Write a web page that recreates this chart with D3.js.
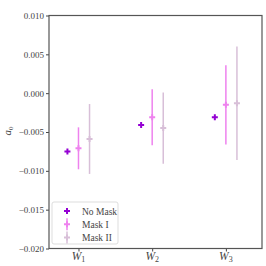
<!DOCTYPE html>
<html>
<head>
<meta charset="utf-8">
<script src="https://d3js.org/d3.v7.min.js"></script>
<style>
  body { margin: 0; background: #fff; }
  text { font-family: "Liberation Serif", "DejaVu Serif", serif; }
</style>
</head>
<body>
<svg width="266" height="266"></svg>
<script>
// categories and series
var cats = ["1", "2", "3"];
var seriesNames = ["No Mask", "Mask I", "Mask II"];
var noMask = [-0.0075, -0.0041, -0.0031];
var maskI = [-0.0071, -0.0031, -0.0015];
var maskIErr = [0.0027, 0.0036, 0.0051];
var maskII = [-0.0059, -0.0045, -0.0013];
var maskIIErr = [0.0045, 0.0046, 0.0073];
var yTicks = [0.010, 0.005, 0.000, -0.005, -0.010, -0.015, -0.020];

var colors = ["darkviolet", "violet", "thistle"];
var offsets = [-0.15, 0, 0.15];

var svg = d3.select("svg");
var mLeft = 49, mRight = 262, mTop = 15.5, mBottom = 248.5;

var x = d3.scaleLinear().domain([-0.4, 2.49]).range([mLeft, mRight]);
var y = d3.scaleLinear().domain([-0.020, 0.010]).range([mBottom, mTop]);

var fmt = function(d) { return d3.format(".3f")(d).replace("-", "\u2212"); };

// y axis
var ya = svg.append("g").attr("transform", "translate(" + mLeft + ",0)")
  .call(d3.axisLeft(y).tickValues(yTicks).tickFormat(fmt).tickSize(3).tickPadding(2));
ya.selectAll("text").attr("font-size", "9px").attr("fill", "#444")
  .style("font-family", "'Liberation Serif', serif");

// x axis
var xa = svg.append("g").attr("transform", "translate(0," + mBottom + ")")
  .call(d3.axisBottom(x).tickValues([0, 1, 2]).tickFormat("").tickSize(3));
xa.selectAll("text").remove();

svg.selectAll(".xl").data(cats).enter().append("text")
  .attr("x", function(d, i) { return x(i); })
  .attr("y", 260)
  .attr("text-anchor", "middle")
  .attr("font-size", "11.5px")
  .attr("fill", "#444")
  .each(function(d) {
    var t = d3.select(this);
    t.append("tspan").attr("font-style", "italic").text("W");
    t.append("tspan").attr("font-size", "8px").attr("dy", 2).text(d);
  });

svg.selectAll(".domain").remove();
svg.selectAll(".tick line").attr("stroke", "#444");

// frame
svg.append("rect").attr("x", mLeft).attr("y", mTop)
  .attr("width", mRight - mLeft).attr("height", mBottom - mTop)
  .attr("fill", "none").attr("stroke", "#555").attr("stroke-width", 1.2);

// y label
svg.append("text")
  .attr("transform", "translate(11,131) rotate(-90)")
  .attr("text-anchor", "middle")
  .attr("font-size", "11px")
  .attr("fill", "#444")
  .each(function() {
    var t = d3.select(this);
    t.append("tspan").attr("font-style", "italic").text("a");
    t.append("tspan").attr("font-size", "7px").attr("dy", 2).text("0");
  });

function plusPath(cx, cy, s) {
  var a = s / 2, b = s / 6;
  return "M" + (cx - b) + "," + (cy - a) + "H" + (cx + b) + "V" + (cy - b) + "H" + (cx + a) +
    "V" + (cy + b) + "H" + (cx + b) + "V" + (cy + a) + "H" + (cx - b) + "V" + (cy + b) +
    "H" + (cx - a) + "V" + (cy - b) + "H" + (cx - b) + "Z";
}

var series = [
  { vals: noMask, err: null },
  { vals: maskI, err: maskIErr },
  { vals: maskII, err: maskIIErr }
];

series.forEach(function(s, k) {
  var g = svg.append("g");
  if (s.err) {
    g.selectAll("line").data(s.vals).enter().append("line")
      .attr("x1", function(d, i) { return x(i + offsets[k]); })
      .attr("x2", function(d, i) { return x(i + offsets[k]); })
      .attr("y1", function(d, i) { return y(d + s.err[i]); })
      .attr("y2", function(d, i) { return y(d - s.err[i]); })
      .attr("stroke", colors[k]).attr("stroke-width", 1.5);
  }
  g.selectAll("path").data(s.vals).enter().append("path")
    .attr("d", function(d, i) { return plusPath(x(i + offsets[k]), y(d), 6); })
    .attr("fill", colors[k]);
});

// legend
var lg = svg.append("g");
lg.append("rect").attr("x", 52).attr("y", 202).attr("width", 66).attr("height", 42)
  .attr("rx", 2).attr("fill", "#fff").attr("fill-opacity", 0.8)
  .attr("stroke", "#ddd").attr("stroke-width", 1);
seriesNames.forEach(function(n, k) {
  var cy = 211 + k * 13.3, cx = 67;
  if (k > 0) {
    lg.append("line").attr("x1", cx).attr("x2", cx).attr("y1", cy - 6).attr("y2", cy + 6)
      .attr("stroke", colors[k]).attr("stroke-width", 1.5);
  }
  lg.append("path").attr("d", plusPath(cx, cy, 6)).attr("fill", colors[k]);
  lg.append("text").attr("x", 82).attr("y", cy + 3.5).attr("font-size", "9.5px")
    .attr("fill", "#444").text(n);
});
</script>
</body>
</html>
